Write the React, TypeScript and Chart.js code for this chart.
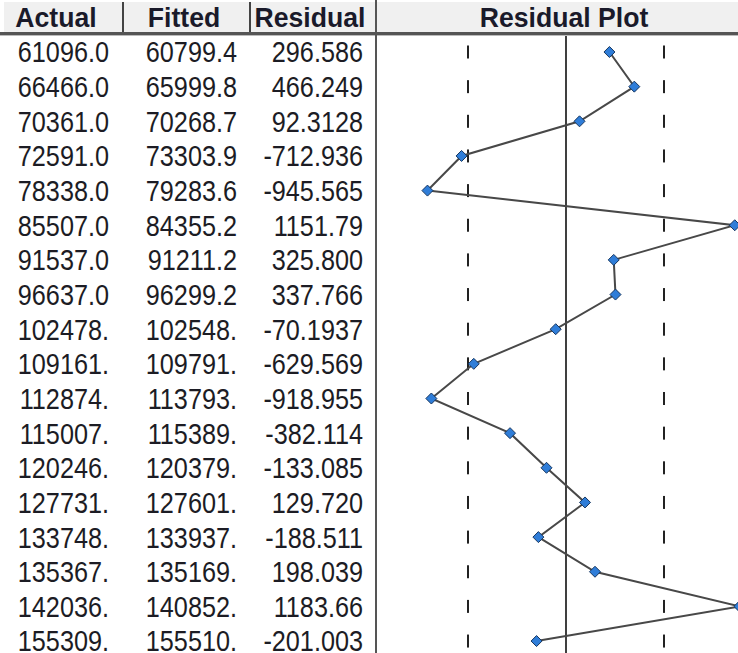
import React, { useEffect, useRef } from "react";
import { Chart, registerables } from "chart.js";

Chart.register(...registerables);

const headers = ["Actual", "Fitted", "Residual", "Residual Plot"];
const actual = [61096.0, 66466.0, 70361.0, 72591.0, 78338.0, 85507.0, 91537.0, 96637.0, 102478, 109161, 112874, 115007, 120246, 127731, 133748, 135367, 142036, 155309];
const fitted = [60799.4, 65999.8, 70268.7, 73303.9, 79283.6, 84355.2, 91211.2, 96299.2, 102548, 109791, 113793, 115389, 120379, 127601, 133937, 135169, 140852, 155510];
const residual = [296.586, 466.249, 92.3128, -712.936, -945.565, 1151.79, 325.8, 337.766, -70.1937, -629.569, -918.955, -382.114, -133.085, 129.72, -188.511, 198.039, 1183.66, -201.003];
const seValue = 669;

// layout constants
const ROW0 = 52;
const ROWH = 34.65;
const CANVAS_LEFT = 378;
const CANVAS_TOP = 36;
const CANVAS_W = 360;
const CANVAS_H = 617;
const PX_PER_UNIT = 0.1465;
const ZERO_X = 566;
const X_MIN = (CANVAS_LEFT - ZERO_X) / PX_PER_UNIT;
const X_MAX = (CANVAS_LEFT + CANVAS_W - ZERO_X) / PX_PER_UNIT;
const Y_MIN = -(ROW0 - CANVAS_TOP) / ROWH;
const Y_MAX = (CANVAS_H - (ROW0 - CANVAS_TOP)) / ROWH;

function fmt(v: number): string {
  let s = v.toPrecision(6);
  if (s.indexOf(".") < 0) s += ".";
  return s;
}

const FONT = '"Liberation Sans", Arial, sans-serif';

export default function App() {
  const ref = useRef<HTMLCanvasElement | null>(null);

  useEffect(() => {
    if (!ref.current) return;
    const chart = new Chart(ref.current, {
      type: "scatter",
      data: {
        datasets: [
          {
            label: "Residual",
            data: residual.map((r, i) => ({ x: r, y: i })),
            showLine: true,
            borderColor: "#484848",
            borderWidth: 2,
            pointStyle: "rectRot",
            pointRadius: 5.5,
            pointBackgroundColor: "#2f7dd8",
            pointBorderColor: "#16365f",
            pointBorderWidth: 1,
            clip: false,
            order: 0,
          },
          {
            label: "zero",
            data: [
              { x: 0, y: Y_MIN },
              { x: 0, y: Y_MAX },
            ],
            showLine: true,
            borderColor: "#111111",
            borderWidth: 1.6,
            pointRadius: 0,
            order: 2,
          },
          {
            label: "-SE",
            data: residual.map((_, i) => ({ x: -seValue, y: i })),
            showLine: false,
            pointStyle: "line",
            rotation: 90,
            pointRadius: 6.5,
            borderColor: "#222222",
            borderWidth: 2,
            order: 3,
          },
          {
            label: "+SE",
            data: residual.map((_, i) => ({ x: seValue, y: i })),
            showLine: false,
            pointStyle: "line",
            rotation: 90,
            pointRadius: 6.5,
            borderColor: "#222222",
            borderWidth: 2,
            order: 3,
          },
        ],
      },
      options: {
        animation: false,
        responsive: false,
        devicePixelRatio: 1,
        layout: { padding: 0, autoPadding: false },
        plugins: { legend: { display: false }, tooltip: { enabled: false } },
        scales: {
          x: { type: "linear", min: X_MIN, max: X_MAX, display: false },
          y: { type: "linear", min: Y_MIN, max: Y_MAX, reverse: true, display: false },
        },
      },
    });
    return () => chart.destroy();
  }, []);

  const colRight = [108.5, 237, 362.5];
  const headerCenters = [56, 184, 310, 564];
  const cols = [actual, fitted, residual];

  return (
    <div style={{ position: "absolute", left: 0, top: 0, width: 738, height: 653, background: "#ffffff", overflow: "hidden", fontFamily: FONT }}>
      {/* header background */}
      <div style={{ position: "absolute", left: 4, top: 2, width: 734, height: 30, background: "#f0f0f0" }} />
      {/* header bottom lines */}
      <div style={{ position: "absolute", left: 0, top: 32, width: 738, height: 3, background: "#555555" }} />
      <div style={{ position: "absolute", left: 0, top: 35, width: 738, height: 1, background: "#bbbbbb" }} />
      {/* header separators */}
      <div style={{ position: "absolute", left: 122, top: 2, width: 2, height: 30, background: "#444444" }} />
      <div style={{ position: "absolute", left: 249, top: 2, width: 2, height: 30, background: "#444444" }} />
      {/* main vertical separator */}
      <div style={{ position: "absolute", left: 375, top: 0, width: 2, height: 653, background: "#555555" }} />
      {headers.map((h, k) => (
        <div
          key={h}
          style={{
            position: "absolute",
            left: headerCenters[k] - 150,
            width: 300,
            top: 2,
            lineHeight: "32px",
            fontSize: 28,
            fontWeight: "bold",
            color: "#1a1a2a",
            textAlign: "center",
            transform: "scaleX(0.95)",
            transformOrigin: "center center",
            whiteSpace: "nowrap",
          }}
        >
          {h}
        </div>
      ))}
      {cols.map((col, c) =>
        col.map((v, i) => (
          <div
            key={c + "-" + i}
            style={{
              position: "absolute",
              left: colRight[c] - 200,
              width: 200,
              top: ROW0 + ROWH * i - 16.6,
              lineHeight: "34px",
              fontSize: 29,
              color: "#1c1c24",
              textAlign: "right",
              transform: "scaleX(0.87)",
              transformOrigin: "right center",
              whiteSpace: "nowrap",
            }}
          >
            {fmt(v)}
          </div>
        ))
      )}
      <canvas
        ref={ref}
        width={CANVAS_W}
        height={CANVAS_H}
        style={{ position: "absolute", left: CANVAS_LEFT, top: CANVAS_TOP, width: CANVAS_W, height: CANVAS_H }}
      />
    </div>
  );
}
